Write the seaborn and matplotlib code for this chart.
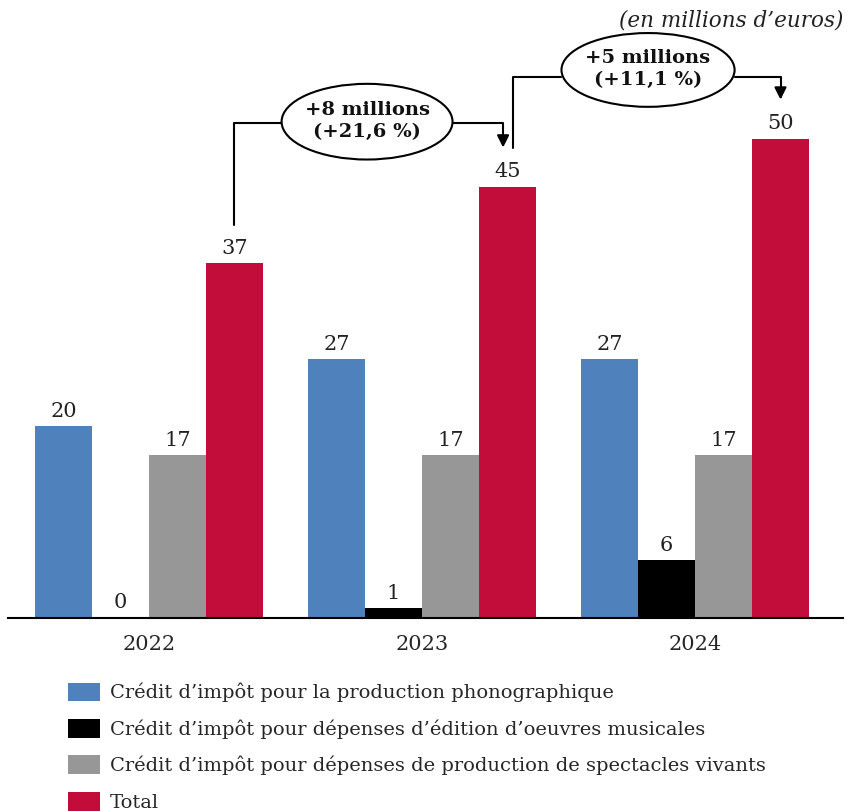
import numpy as np
import pandas as pd
import seaborn as sns
import matplotlib.pyplot as plt
from matplotlib.patches import Ellipse

# données (en millions d'euros)
years = ["2022", "2023", "2024"]
series = [
    "Crédit d\u2019impôt pour la production phonographique",
    "Crédit d\u2019impôt pour dépenses d\u2019édition d\u2019oeuvres musicales",
    "Crédit d\u2019impôt pour dépenses de production de spectacles vivants",
    "Total",
]
phono = [20, 27, 27]
edition = [0, 1, 6]
spectacles = [17, 17, 17]
total = [37, 45, 50]
evol_labels = ["+8 millions\n(+21,6 %)", "+5 millions\n(+11,1 %)"]
colors = ["#4F81BD", "#000000", "#979797", "#C20D3B"]

sns.set_theme(style="white")
plt.rcParams["font.family"] = ["DejaVu Serif"]

rows = []
for vals, s in zip([phono, edition, spectacles, total], series):
    for y, v in zip(years, vals):
        rows.append({"annee": y, "serie": s, "valeur": v})
df = pd.DataFrame(rows)

fig = plt.figure(figsize=(8.47, 8.11), dpi=100)
ax = fig.add_axes([8 / 847, 0.238, 835 / 847, 0.762])

sns.barplot(data=df, x="annee", y="valeur", hue="serie", hue_order=series,
            palette=colors, width=0.835, gap=0, saturation=1, ax=ax,
            edgecolor="none", linewidth=0)

for cont in ax.containers:
    ax.bar_label(cont, fmt="%d", padding=4, fontsize=15, color="#222222")

ax.set_xlim(-0.516, 2.542)
ax.set_ylim(0, 64.5)
ax.set_xlabel("")
ax.set_ylabel("")
ax.set_yticks([])
ax.tick_params(axis="x", length=0, labelsize=15, pad=12)
for sp in ["top", "left", "right"]:
    ax.spines[sp].set_visible(False)
ax.spines["bottom"].set_color("black")
ax.spines["bottom"].set_linewidth(1.5)

# flèches d'évolution du total
w = 0.835
red_x = [i + 1.5 * w / 4 for i in range(len(years))]
starts = [(red_x[0], total[0] + 4.0), (red_x[1] + 0.02, total[1] + 4.1)]
ends = [red_x[1] - 0.016, red_x[2]]
levels = [51.7, 56.5]
ell_x = [0.799, 1.828]
ell_y = [51.8, 57.2]
ell_w = [0.626, 0.634]
ell_h = [7.9, 7.7]
for i in range(2):
    sx, sy = starts[i]
    lv = levels[i]
    ex = ends[i]
    tip = total[i + 1] + 4.1
    ax.plot([sx, sx, ell_x[i] - ell_w[i] / 2], [sy, lv, lv], color="black", lw=1.5)
    ax.annotate("", xy=(ex, tip), xytext=(ell_x[i] + ell_w[i] / 2, lv),
                arrowprops=dict(arrowstyle="-|>", color="black", lw=1.5,
                                mutation_scale=18, shrinkA=0, shrinkB=0,
                                connectionstyle="angle,angleA=0,angleB=90,rad=0"))
    ax.add_patch(Ellipse((ell_x[i], ell_y[i]), ell_w[i], ell_h[i],
                         facecolor="white", edgecolor="black", lw=1.5, zorder=5))
    ax.text(ell_x[i], ell_y[i] + 0.1, evol_labels[i], ha="center", va="center",
            fontsize=14, fontweight="bold", linespacing=1.3, zorder=6,
            color="#111111")

fig.text(0.996, 0.975, "(en millions d\u2019euros)", ha="right", va="center",
         fontsize=15.5, style="italic", color="#222222")

handles, labels = ax.get_legend_handles_labels()
ax.get_legend().remove()
fig.legend(handles, labels, loc="upper left", bbox_to_anchor=(0.071, 0.168),
           frameon=False, fontsize=14, handlelength=1.65, handleheight=1.1,
           handletextpad=0.5, labelspacing=0.85, borderaxespad=0)

fig.savefig("out.png", dpi=100)
